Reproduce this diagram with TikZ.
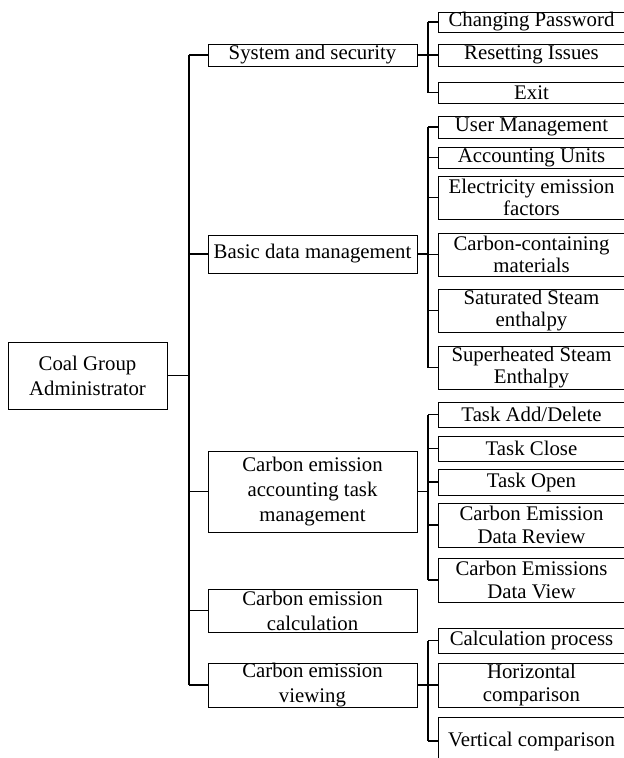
\documentclass[tikz,border=0pt]{standalone}
\usepackage{fontspec}
\setmainfont{Liberation Serif}
\begin{document}
\begin{tikzpicture}[x=1pt,y=-1pt,
  box/.style={draw, line width=0.8pt, inner sep=0pt, align=center},
  rootbox/.style={box, minimum width=159pt, font=\fontsize{20.8}{25}\selectfont},
  midbox/.style={box, minimum width=209pt, font=\fontsize{20.8}{25}\selectfont},
  leaf/.style={box, minimum width=187pt, font=\fontsize{20.8}{22.5}\selectfont},
  conn/.style={line width=1.1pt},
  thickconn/.style={line width=1.8pt}]
\useasboundingbox (0,0) rectangle (624,758);
\clip (0,0) rectangle (624,758);
% root
\node[rootbox, minimum height=67pt] (root) at (87.5,375.5) {Coal Group\\Administrator};
% level 1
\node[midbox, minimum height=22pt] (sys) at (312.5,55) {System and security};
\node[midbox, minimum height=38pt] (basic) at (312.5,254) {Basic data management};
\node[midbox, minimum height=81pt] (task) at (312.5,491.5) {Carbon emission\\accounting task\\management};
\node[midbox, minimum height=43pt] (calc) at (312.5,610.5) {Carbon emission\\calculation};
\node[midbox, minimum height=44pt] (view) at (312.5,685) {Carbon emission\\viewing};
% leaves: system
\node[leaf, minimum height=20pt] (cp) at (531.5,22) {Changing Password};
\node[leaf, minimum height=22pt] (ri) at (531.5,55) {Resetting Issues};
\node[leaf, minimum height=21pt] (ex) at (531.5,92.5) {Exit};
% leaves: basic
\node[leaf, minimum height=22pt] (um) at (531.5,127) {User Management};
\node[leaf, minimum height=21pt] (au) at (531.5,157.5) {Accounting Units};
\node[leaf, minimum height=43pt] (ef) at (531.5,197.5) {Electricity emission\\factors};
\node[leaf, minimum height=43pt] (cm) at (531.5,254.5) {Carbon-containing\\materials};
\node[leaf, minimum height=43pt] (ss) at (531.5,310.5) {Saturated Steam\\enthalpy};
\node[leaf, minimum height=43pt] (sh) at (531.5,367.5) {Superheated Steam\\Enthalpy};
% leaves: task
\node[leaf, minimum height=25pt] (ta) at (531.5,414.5) {Task Add/Delete};
\node[leaf, minimum height=25pt] (tc) at (531.5,448.5) {Task Close};
\node[leaf, minimum height=26pt] (to) at (531.5,482) {Task Open};
\node[leaf, minimum height=44pt] (dr) at (531.5,525) {Carbon Emission\\Data Review};
\node[leaf, minimum height=44pt] (dv) at (531.5,580) {Carbon Emissions\\Data View};
% leaves: view
\node[leaf, minimum height=25pt] (cpr) at (531.5,640.5) {Calculation process};
\node[leaf, minimum height=44pt] (hc) at (531.5,685) {Horizontal\\comparison};
\node[leaf, minimum height=48pt] (vc) at (531.5,741) {Vertical comparison};
% bus coordinates
\coordinate (tr) at (189,0);
\coordinate (bx) at (428,0);
% root to trunk
\draw[thickconn] (root.east) -- (root.east -| tr);
\draw[conn] (sys.west -| tr) -- (view.west -| tr);
\foreach \n in {sys,basic,task,calc,view}
  \draw[conn] (\n.west -| tr) -- (\n.west);
% groups
\foreach \n/\first/\last in {sys/cp/ex, basic/um/sh, task/ta/dv, view/cpr/vc} {
  \draw[thickconn] (\n.east) -- (\n.east -| bx);
  \draw[conn] (\first.west -| bx) -- (\last.west -| bx);
}
\foreach \c in {cp,ri,ex,um,au,ef,cm,ss,sh,ta,tc,to,dr,dv,cpr,hc,vc}
  \draw[conn] (\c.west -| bx) -- (\c.west);
\end{tikzpicture}
\end{document}
